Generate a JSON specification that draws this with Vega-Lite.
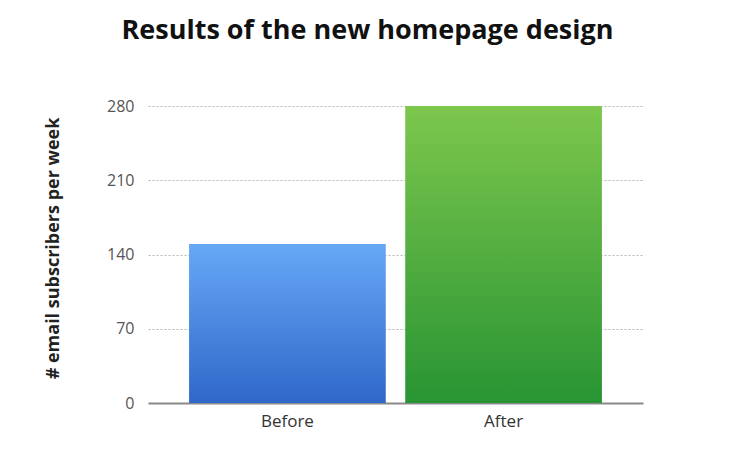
{
  "$schema": "https://vega.github.io/schema/vega-lite/v6.json",
  "autosize": "none",
  "width": 495,
  "height": 297,
  "padding": {"left": 148, "top": 106, "right": 107, "bottom": 55},
  "background": "white",
  "title": {
    "text": "Results of the new homepage design",
    "font": "Open Sans",
    "fontSize": 27,
    "fontWeight": "bold",
    "color": "#111111",
    "anchor": "middle",
    "dx": -28,
    "offset": 53
  },
  "data": {
    "values": [
      {"period": "Before", "subscribers": 150},
      {"period": "After", "subscribers": 280}
    ]
  },
  "encoding": {
    "x": {
      "field": "period",
      "type": "nominal",
      "sort": ["Before", "After"],
      "scale": {"paddingInner": 0.09, "paddingOuter": 0.19},
      "axis": {
        "title": null,
        "labelAngle": 0,
        "labelFont": "Open Sans",
        "labelFontSize": 17,
        "labelColor": "#333333",
        "labelPadding": 10,
        "ticks": false,
        "domainColor": "#8a8a8a",
        "domainWidth": 2
      }
    },
    "y": {
      "field": "subscribers",
      "type": "quantitative",
      "scale": {"domain": [0, 280]},
      "axis": {
        "title": "# email subscribers per week",
        "titleFont": "Open Sans",
        "titleFontSize": 18,
        "titleFontWeight": "bold",
        "titleColor": "#222222",
        "titlePadding": 44,
        "titleY": 142,
        "values": [0, 70, 140, 210, 280],
        "labelFont": "Open Sans",
        "labelFontSize": 16,
        "labelColor": "#555555",
        "labelPadding": 14,
        "ticks": false,
        "domain": false,
        "grid": true,
        "gridColor": "#b5b5b5",
        "gridDash": [2, 2],
        "gridWidth": 1
      }
    }
  },
  "layer": [
    {
      "transform": [{"filter": "datum.period === 'Before'"}],
      "mark": {
        "type": "bar",
        "color": {
          "gradient": "linear",
          "x1": 0, "y1": 0, "x2": 0, "y2": 1,
          "stops": [
            {"offset": 0, "color": "#67a8f6"},
            {"offset": 1, "color": "#2f68c9"}
          ]
        }
      }
    },
    {
      "transform": [{"filter": "datum.period === 'After'"}],
      "mark": {
        "type": "bar",
        "color": {
          "gradient": "linear",
          "x1": 0, "y1": 0, "x2": 0, "y2": 1,
          "stops": [
            {"offset": 0, "color": "#7dc74d"},
            {"offset": 1, "color": "#289433"}
          ]
        }
      }
    }
  ],
  "config": {
    "view": {"stroke": null}
  }
}
